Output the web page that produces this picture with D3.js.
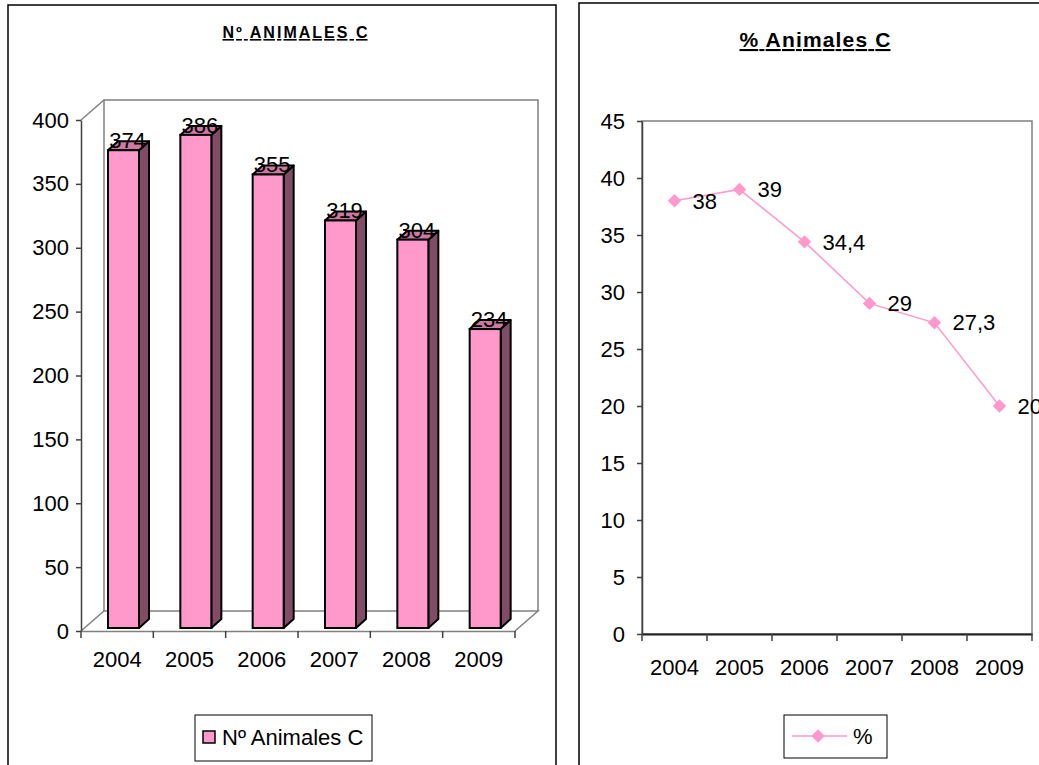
<!DOCTYPE html>
<html lang="es">
<head>
<meta charset="UTF-8">
<script src="https://d3js.org/d3.v7.min.js"></script>
<style>
    body { margin: 0; background: #fff; }
    svg { font-family: Arial, "Liberation Sans", sans-serif; }
    .tick text { font-size: 22px; fill: #000; }
    .lbl { font-size: 22px; fill: #000; }
</style>
</head>
<body>
<div id="chart"></div>
<script>
// data
const years = ["2004", "2005", "2006", "2007", "2008", "2009"];
const animales = [374, 386, 355, 319, 304, 234];
const porcentaje = [38, 39, 34.4, 29, 27.3, 20];
const ticksAnimales = [0, 50, 100, 150, 200, 250, 300, 350, 400];
const ticksPorcentaje = [0, 5, 10, 15, 20, 25, 30, 35, 40, 45];

const es = d3.formatLocale({decimal: ",", thousands: ".", grouping: [3], currency: ["", "€"]});
const fmt = es.format("~r");

const pink = "#ff99cc", pinkSide = "#804c66", pinkTop = "#cc7aa3";

const svg = d3.select("#chart").append("svg")
    .attr("width", 1039)
    .attr("height", 765);

// outer frames
svg.append("rect").attr("x", 8).attr("y", 5).attr("width", 548).attr("height", 780)
    .attr("fill", "none").attr("stroke", "#000").attr("stroke-width", 1.5);
svg.append("rect").attr("x", 579).attr("y", 3).attr("width", 500).attr("height", 780)
    .attr("fill", "none").attr("stroke", "#000").attr("stroke-width", 1.5);

// ---------- left chart: 3D columns ----------
const left = svg.append("g");
const dx = 23, dy = -20;           // depth of the 3D box
const yL = d3.scaleLinear().domain([0, 400]).range([631, 120]);
const xL = d3.scaleBand().domain(years).range([81, 515]);

left.append("text")
    .attr("x", 295).attr("y", 38)
    .attr("text-anchor", "middle")
    .attr("font-size", 16).attr("font-weight", "bold")
    .attr("text-decoration", "underline")
    .attr("textLength", 145).attr("lengthAdjust", "spacing")
    .text("Nº ANIMALES C");

const x0 = xL.range()[0], x1 = xL.range()[1];
const yTop = yL(400), yBot = yL(0);

// back wall + floor
left.append("path")
    .attr("d", `M${x0 + dx},${yBot + dy}V${yTop + dy}H${x1 + dx}V${yBot + dy}`)
    .attr("fill", "none").attr("stroke", "#808080").attr("stroke-width", 1.5);
left.append("path")
    .attr("d", `M${x0},${yBot}L${x0 + dx},${yBot + dy}H${x1 + dx}L${x1},${yBot}`)
    .attr("fill", "none").attr("stroke", "#808080").attr("stroke-width", 1.5);
left.append("line")
    .attr("x1", x0).attr("y1", yTop).attr("x2", x0 + dx).attr("y2", yTop + dy)
    .attr("stroke", "#808080").attr("stroke-width", 1.5);

const yAxisL = left.append("g")
    .attr("transform", `translate(${x0},0)`)
    .call(d3.axisLeft(yL).tickValues(ticksAnimales).tickSize(5).tickSizeOuter(0).tickPadding(7));
yAxisL.select(".domain").attr("stroke", "#404040").attr("stroke-width", 1.5);
yAxisL.selectAll(".tick line").attr("stroke", "#404040").attr("stroke-width", 1.5);

// bottom axis: labels at centres, ticks on band boundaries
const xAxisL = left.append("g")
    .attr("transform", `translate(0,${yBot})`)
    .call(d3.axisBottom(xL).tickSize(0).tickPadding(20));
xAxisL.select(".domain").attr("stroke", "#808080").attr("stroke-width", 1.5);
xAxisL.selectAll(".bound")
    .data(years.map(d => xL(d)).concat([x1]))
    .enter().append("line")
    .attr("x1", d => d).attr("x2", d => d)
    .attr("y1", 0).attr("y2", 7)
    .attr("stroke", "#404040").attr("stroke-width", 1.5);

// bars
const bw = 31, bx = 27, lift = 3, bdx = 10, bdy = -9;
const bars = left.selectAll(".bar")
    .data(years.map((d, i) => ({year: d, v: animales[i]})))
    .enter().append("g").attr("class", "bar");

bars.append("path")   // side
    .attr("d", d => {
        const xr = xL(d.year) + bx + bw, yt = yL(d.v) - lift, yb = yBot - lift;
        return `M${xr},${yb}V${yt}l${bdx},${bdy}V${yb + bdy}Z`;
    })
    .attr("fill", pinkSide).attr("stroke", "#000").attr("stroke-width", 2).attr("stroke-linejoin", "round");
bars.append("path")   // top
    .attr("d", d => {
        const xl = xL(d.year) + bx, yt = yL(d.v) - lift;
        return `M${xl},${yt}l${bdx},${bdy}h${bw}l${-bdx},${-bdy}Z`;
    })
    .attr("fill", pinkTop).attr("stroke", "#000").attr("stroke-width", 2).attr("stroke-linejoin", "round");
bars.append("rect")   // front
    .attr("x", d => xL(d.year) + bx)
    .attr("y", d => yL(d.v) - lift)
    .attr("width", bw)
    .attr("height", d => yBot - yL(d.v))
    .attr("fill", pink).attr("stroke", "#000").attr("stroke-width", 2);
bars.append("text")
    .attr("class", "lbl")
    .attr("x", d => xL(d.year) + bx + bw / 2 + 4)
    .attr("y", d => yL(d.v) - lift - 2)
    .attr("text-anchor", "middle")
    .text(d => d.v);

// legend
const legL = left.append("g");
legL.append("rect").attr("x", 195).attr("y", 715).attr("width", 177).attr("height", 46)
    .attr("fill", "#fff").attr("stroke", "#000").attr("stroke-width", 1);
legL.append("rect").attr("x", 203).attr("y", 731).attr("width", 12).attr("height", 12)
    .attr("fill", pink).attr("stroke", "#000").attr("stroke-width", 1.5);
legL.append("text").attr("class", "lbl").attr("x", 222).attr("y", 745).text("Nº Animales C");

// ---------- right chart: line ----------
const right = svg.append("g");
const yR = d3.scaleLinear().domain([0, 45]).range([634, 121]);
const xR = d3.scaleBand().domain(years).range([642, 1032]);

right.append("text")
    .attr("x", 815).attr("y", 47)
    .attr("text-anchor", "middle")
    .attr("font-size", 21).attr("font-weight", "bold")
    .attr("text-decoration", "underline")
    .attr("textLength", 151).attr("lengthAdjust", "spacing")
    .text("% Animales C");

right.append("rect")
    .attr("x", xR.range()[0]).attr("y", yR(45))
    .attr("width", xR.range()[1] - xR.range()[0]).attr("height", yR(0) - yR(45))
    .attr("fill", "none").attr("stroke", "#808080").attr("stroke-width", 1.5);

const yAxisR = right.append("g")
    .attr("transform", `translate(${xR.range()[0]},0)`)
    .call(d3.axisLeft(yR).tickValues(ticksPorcentaje).tickSize(5).tickSizeOuter(0).tickPadding(12));
yAxisR.select(".domain").attr("stroke", "#404040").attr("stroke-width", 1.5);
yAxisR.selectAll(".tick line").attr("stroke", "#404040").attr("stroke-width", 1.5);

const xAxisR = right.append("g")
    .attr("transform", `translate(0,${yR(0)})`)
    .call(d3.axisBottom(xR).tickSize(0).tickPadding(25));
xAxisR.select(".domain").attr("stroke", "#202020").attr("stroke-width", 2);
xAxisR.selectAll(".bound")
    .data(years.map(d => xR(d)).concat([xR.range()[1]]))
    .enter().append("line")
    .attr("x1", d => d).attr("x2", d => d)
    .attr("y1", 0).attr("y2", 7)
    .attr("stroke", "#404040").attr("stroke-width", 1.5);

const pts = years.map((d, i) => ({year: d, v: porcentaje[i]}));
const cx = d => xR(d.year) + xR.bandwidth() / 2;

right.append("path")
    .datum(pts)
    .attr("d", d3.line().x(cx).y(d => yR(d.v)))
    .attr("fill", "none").attr("stroke", pink).attr("stroke-width", 1.5);

const diamond = d3.symbol(d3.symbolSquare, 90);
right.selectAll(".pt")
    .data(pts)
    .enter().append("path")
    .attr("d", diamond)
    .attr("transform", d => `translate(${cx(d)},${yR(d.v)}) rotate(45)`)
    .attr("fill", pink);

// the last label runs past the picture's right edge, as in the original
right.selectAll(".vl")
    .data(pts)
    .enter().append("text")
    .attr("class", "lbl")
    .attr("x", d => cx(d) + 18)
    .attr("y", d => yR(d.v))
    .attr("dy", "0.35em")
    .text(d => fmt(d.v));

// legend
const legR = right.append("g");
legR.append("rect").attr("x", 784).attr("y", 715).attr("width", 103).attr("height", 43)
    .attr("fill", "#fff").attr("stroke", "#000").attr("stroke-width", 1);
legR.append("line").attr("x1", 792).attr("x2", 847).attr("y1", 736).attr("y2", 736)
    .attr("stroke", pink).attr("stroke-width", 1.5);
legR.append("path").attr("d", diamond)
    .attr("transform", "translate(818,736) rotate(45)").attr("fill", pink);
legR.append("text").attr("class", "lbl").attr("x", 853).attr("y", 736).attr("dy", "0.35em").text("%");
</script>
</body>
</html>
